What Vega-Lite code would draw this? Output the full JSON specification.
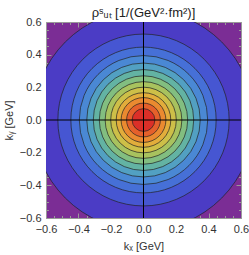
{
  "$schema": "https://vega.github.io/schema/vega-lite/v6.json",
  "width": 195,
  "height": 196,
  "autosize": {"type": "none"},
  "padding": {"left": 46, "top": 22, "right": 8, "bottom": 37},
  "title": {"text": "ρˢᵤₜ [1/(GeV²·fm²)]", "font": "Liberation Sans", "fontSize": 13, "fontWeight": "normal", "color": "#222", "offset": -4},
  "config": {
    "view": {"fill": "#7b2d95", "stroke": "#999", "strokeWidth": 1},
    "axis": {"grid": false, "domain": false, "labelFont": "Liberation Sans", "labelFontSize": 11, "labelColor": "#333", "titleFont": "Liberation Sans", "titleFontSize": 11, "titleFontWeight": "normal", "titleColor": "#333", "tickColor": "#999"}
  },
  "resolve": {"axis": {"x": "independent", "y": "independent"}},
  "layer": [
    {
      "data": {"values": [
        {"kx": 0, "ky": 0, "r": 0.680, "level": 1},
        {"kx": 0, "ky": 0, "r": 0.527, "level": 2},
        {"kx": 0, "ky": 0, "r": 0.447, "level": 3},
        {"kx": 0, "ky": 0, "r": 0.395, "level": 4},
        {"kx": 0, "ky": 0, "r": 0.349, "level": 5},
        {"kx": 0, "ky": 0, "r": 0.309, "level": 6},
        {"kx": 0, "ky": 0, "r": 0.272, "level": 7},
        {"kx": 0, "ky": 0, "r": 0.236, "level": 8},
        {"kx": 0, "ky": 0, "r": 0.202, "level": 9},
        {"kx": 0, "ky": 0, "r": 0.168, "level": 10},
        {"kx": 0, "ky": 0, "r": 0.138, "level": 11},
        {"kx": 0, "ky": 0, "r": 0.104, "level": 12},
        {"kx": 0, "ky": 0, "r": 0.070, "level": 13}
      ]},
      "mark": {"type": "circle", "clip": true, "stroke": "#222", "strokeWidth": 0.7, "opacity": 1},
      "encoding": {
        "x": {"field": "kx", "type": "quantitative", "scale": {"domain": [-0.6, 0.6], "nice": false, "zero": false},
          "axis": {"orient": "bottom", "title": "kₓ [GeV]", "values": [-0.6,-0.55,-0.5,-0.45,-0.4,-0.35,-0.3,-0.25,-0.2,-0.15,-0.1,-0.05,0,0.05,0.1,0.15,0.2,0.25,0.3,0.35,0.4,0.45,0.5,0.55,0.6],
            "labelExpr": "abs(round(datum.value*100)) % 20 == 0 ? format(datum.value, '.1f') : ''",
            "tickSize": {"condition": {"test": "abs(round(datum.value*100)) % 20 == 0", "value": -5}, "value": -2.5},
            "labelPadding": 10, "titlePadding": 4, "labelFlush": false, "labelOverlap": false}},
        "y": {"field": "ky", "type": "quantitative", "scale": {"domain": [-0.6, 0.6], "nice": false, "zero": false},
          "axis": {"orient": "left", "title": "kᵧ [GeV]", "values": [-0.6,-0.55,-0.5,-0.45,-0.4,-0.35,-0.3,-0.25,-0.2,-0.15,-0.1,-0.05,0,0.05,0.1,0.15,0.2,0.25,0.3,0.35,0.4,0.45,0.5,0.55,0.6],
            "labelExpr": "abs(round(datum.value*100)) % 20 == 0 ? format(datum.value, '.1f') : ''",
            "tickSize": {"condition": {"test": "abs(round(datum.value*100)) % 20 == 0", "value": -5}, "value": -2.5},
            "labelPadding": 10, "titlePadding": 5, "labelFlush": false, "labelOverlap": false}},
        "size": {"field": "r", "type": "quantitative", "scale": {"type": "pow", "exponent": 2, "domain": [0, 1], "range": [0, 105625]}, "legend": null},
        "color": {"field": "level", "type": "ordinal", "scale": {"domain": [1,2,3,4,5,6,7,8,9,10,11,12,13], "range": ["#4b3cc5","#4656d2","#4670d7","#4a88d4","#52a0c2","#63b3a3","#82be80","#a8c25e","#cdbf48","#e2ad3b","#ea8a30","#e5602b","#dc2f28"]}, "legend": null}
      }
    },
    {
      "data": {"values": [{"k": 0}]},
      "mark": {"type": "rule", "color": "#000", "strokeWidth": 1},
      "encoding": {
        "x": {"field": "k", "type": "quantitative", "scale": {"domain": [-0.6, 0.6], "nice": false, "zero": false},
          "axis": {"orient": "top", "title": null, "labels": false, "values": [-0.6,-0.55,-0.5,-0.45,-0.4,-0.35,-0.3,-0.25,-0.2,-0.15,-0.1,-0.05,0,0.05,0.1,0.15,0.2,0.25,0.3,0.35,0.4,0.45,0.5,0.55,0.6],
            "tickSize": {"condition": {"test": "abs(round(datum.value*100)) % 20 == 0", "value": -5}, "value": -2.5}}}
      }
    },
    {
      "data": {"values": [{"k": 0}]},
      "mark": {"type": "rule", "color": "#000", "strokeWidth": 1},
      "encoding": {
        "y": {"field": "k", "type": "quantitative", "scale": {"domain": [-0.6, 0.6], "nice": false, "zero": false},
          "axis": {"orient": "right", "title": null, "labels": false, "values": [-0.6,-0.55,-0.5,-0.45,-0.4,-0.35,-0.3,-0.25,-0.2,-0.15,-0.1,-0.05,0,0.05,0.1,0.15,0.2,0.25,0.3,0.35,0.4,0.45,0.5,0.55,0.6],
            "tickSize": {"condition": {"test": "abs(round(datum.value*100)) % 20 == 0", "value": -5}, "value": -2.5}}}
      }
    }
  ]
}
